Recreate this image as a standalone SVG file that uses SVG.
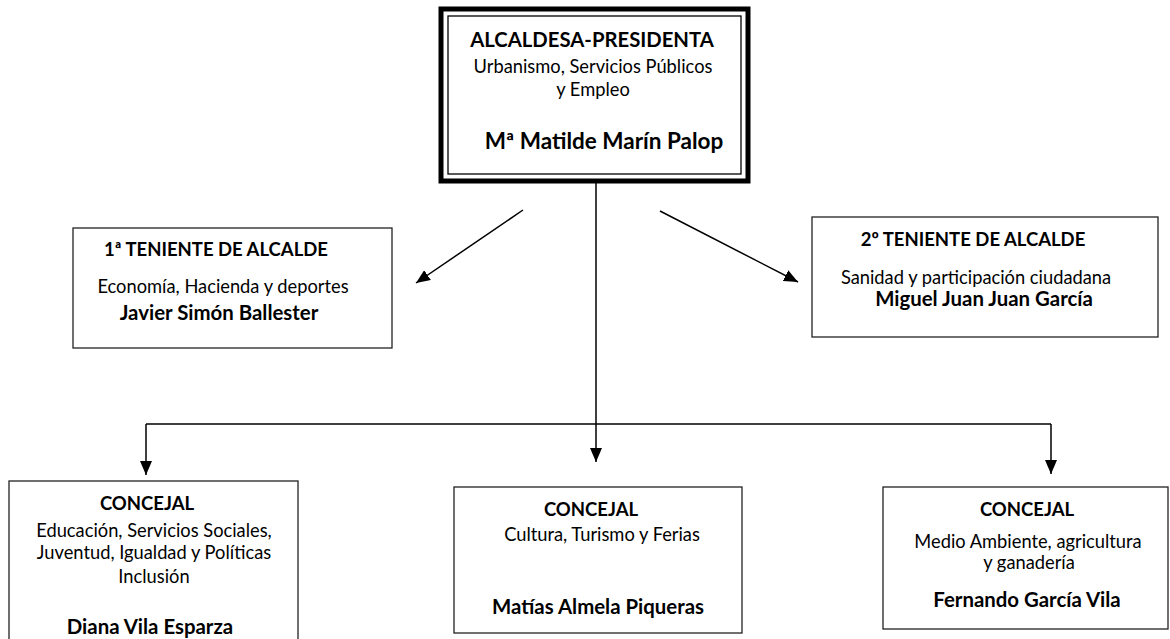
<svg xmlns="http://www.w3.org/2000/svg" width="1170" height="639" viewBox="0 0 1170 639">
<style>
text{font-family:Lato,"Open Sans","Liberation Sans",sans-serif;fill:#000;text-anchor:middle}
.b{font-weight:bold}
.r{font-size:18.3px}
.h{font-size:18.5px;font-weight:bold}
.n{font-size:20.4px;font-weight:bold}
.box{fill:#fff;stroke:#222;stroke-width:1.3}
.c{fill:none;stroke:#000;stroke-width:1.5}
</style>
<defs>
<marker id="ah" markerUnits="userSpaceOnUse" markerWidth="14" markerHeight="12" viewBox="0 0 14 12" refX="14" refY="6" orient="auto">
<path d="M0,0 L14,6 L0,12 z" fill="#000"/>
</marker>
</defs>
<rect width="1170" height="639" fill="#fff"/>
<g id="connectors">
<line class="c" x1="596" y1="183" x2="596" y2="462" marker-end="url(#ah)"/>
<line class="c" x1="523" y1="210" x2="416" y2="283" marker-end="url(#ah)"/>
<line class="c" x1="660" y1="211" x2="798" y2="282" marker-end="url(#ah)"/>
<line class="c" x1="146" y1="424" x2="1051" y2="424"/>
<line class="c" x1="146" y1="424" x2="146" y2="475" marker-end="url(#ah)"/>
<line class="c" x1="1051" y1="424" x2="1051" y2="474" marker-end="url(#ah)"/>
</g>
<g id="alcaldesa">
<rect x="441" y="9" width="307" height="172" fill="#fff" stroke="#000" stroke-width="5"/>
<rect x="448" y="16" width="293" height="158" fill="none" stroke="#000" stroke-width="1.3"/>
<text class="b" x="592" y="47" font-size="20.3">ALCALDESA-PRESIDENTA</text>
<text class="r" x="593" y="73">Urbanismo, Servicios Públicos</text>
<text class="r" x="593" y="96">y Empleo</text>
<text class="b" x="604" y="149" font-size="22.5">Mª Matilde Marín Palop</text>
</g>
<g id="teniente1">
<rect class="box" x="73" y="228" width="319" height="120"/>
<text class="h" x="216" y="256">1ª TENIENTE DE ALCALDE</text>
<text class="r" x="223" y="293">Economía, Hacienda y deportes</text>
<text class="n" x="219" y="320">Javier Simón Ballester</text>
</g>
<g id="teniente2">
<rect class="box" x="812" y="217" width="346" height="120"/>
<text class="h" x="973" y="246">2º TENIENTE DE ALCALDE</text>
<text class="r" x="976" y="284">Sanidad y participación ciudadana</text>
<text class="n" x="984" y="306">Miguel Juan Juan García</text>
</g>
<g id="concejal1">
<rect class="box" x="9" y="481" width="289" height="170"/>
<text class="h" x="147" y="510" font-size="18">CONCEJAL</text>
<text class="r" x="154" y="537">Educación, Servicios Sociales,</text>
<text class="r" x="154" y="559">Juventud, Igualdad y Políticas</text>
<text class="r" x="154" y="583">Inclusión</text>
<text class="n" x="150" y="634">Diana Vila Esparza</text>
</g>
<g id="concejal2">
<rect class="box" x="454" y="487" width="288" height="146"/>
<text class="h" x="591" y="516" font-size="18">CONCEJAL</text>
<text class="r" x="602" y="541">Cultura, Turismo y Ferias</text>
<text class="n" x="598" y="614">Matías Almela Piqueras</text>
</g>
<g id="concejal3">
<rect class="box" x="883" y="487" width="285" height="142"/>
<text class="h" x="1027" y="516" font-size="18">CONCEJAL</text>
<text class="r" x="1028" y="548">Medio Ambiente, agricultura</text>
<text class="r" x="1029" y="569">y ganadería</text>
<text class="n" x="1027" y="607">Fernando García Vila</text>
</g>
</svg>
